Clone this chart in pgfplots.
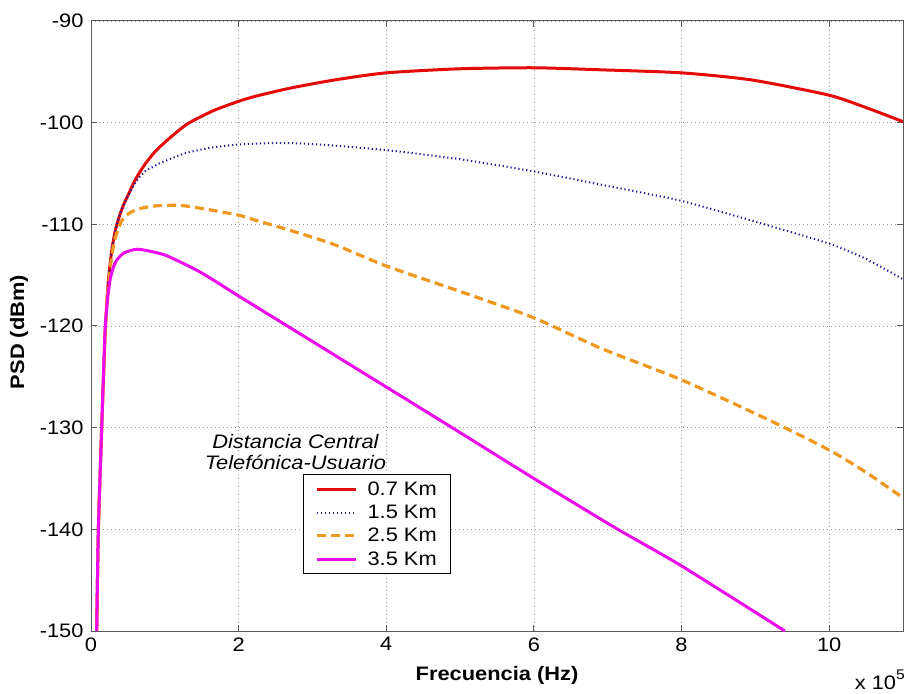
\documentclass[border=0pt]{standalone}
\usepackage{fontspec}
\setmainfont{Liberation Sans}[FakeStretch=1.12]
\usepackage{pgfplots}
\pgfplotsset{compat=1.18}
\definecolor{cRed}{RGB}{228,10,10}
\definecolor{cBlue}{RGB}{25,25,150}
\definecolor{cOrange}{RGB}{238,152,32}
\definecolor{cMag}{RGB}{238,10,238}
\definecolor{cFrame}{RGB}{90,90,90}
\begin{document}
\begin{tikzpicture}[x=1pt,y=1pt]
\useasboundingbox (0,0) rectangle (907,693);
\begin{axis}[
  at={(91pt,62pt)}, anchor=south west,
  scale only axis, width=812pt, height=610pt,
  xmin=0, xmax=11, ymin=-150, ymax=-90,
  xtick={0,2,4,6,8,10}, ytick={-150,-140,-130,-120,-110,-100,-90},
  grid=major,
  grid style={dash pattern=on 1pt off 3pt, gray!80, line width=0.8pt},
  axis line style={cFrame, line width=1pt},
  tick style={cFrame, line width=1pt},
  major tick length=6pt, tick align=inside,
  /pgf/number format/assume math mode=true,
  ticklabel style={font=\fontsize{19.5}{22}\selectfont},
  yticklabel style={xshift=-4pt},
  xticklabel style={yshift=-3pt},
  xlabel={Frecuencia (Hz)}, ylabel={PSD (dBm)},
  label style={font=\fontsize{19.5}{22}\selectfont\bfseries},
  xlabel style={at={(axis description cs:0.5,-0.0725)}, anchor=center},
  ylabel style={at={(axis description cs:-0.0885,0.49)}, anchor=center},
  legend cell align=left,
  legend style={at={(0.261,0.257)}, anchor=north west, draw=black, line width=0.8pt,
    fill=white, font=\fontsize{19.5}{22}\selectfont, inner xsep=12pt, inner ysep=5pt,
    row sep=4.3pt, column sep=8pt,
    nodes={inner sep=2pt},
    legend image code/.code={\draw[#1] (0pt,0pt) -- (39pt,0pt);}},
  every axis plot/.append style={smooth, tension=0.4},
]
\addplot[cRed, line width=3pt] coordinates {
(0.077,-150) (0.1,-140) (0.145,-130) (0.19,-121) (0.23,-116) (0.28,-112.6) (0.33,-110.6)
(0.38,-109.3) (0.44,-108.1) (0.51,-107.0) (0.58,-105.9) (0.65,-105.0) (0.73,-104.1)
(0.85,-103.0) (0.96,-102.2) (1.1,-101.3) (1.27,-100.3) (1.41,-99.7) (1.68,-98.75)
(2.0,-97.9) (2.23,-97.4) (2.7,-96.6) (3.3,-95.8) (4,-95.1) (5,-94.7) (6,-94.6) (6.9,-94.8)
(8,-95.1) (8.95,-95.8) (10,-97.3) (10.53,-98.6) (11,-99.9)};
\addlegendentry{0.7 Km}
\addplot[cBlue, line width=2pt, dash pattern=on 1.2pt off 2.8pt] coordinates {
(0.077,-150) (0.1,-140) (0.145,-130) (0.19,-121) (0.23,-116) (0.28,-112.6) (0.33,-110.6)
(0.38,-109.3) (0.44,-108.1) (0.51,-107.1) (0.6,-105.9) (0.73,-104.8) (0.85,-104.3)
(0.96,-103.9) (1.28,-103.0) (1.64,-102.45) (2.0,-102.15) (2.5,-102.0) (3.0,-102.1)
(4,-102.7) (5,-103.6) (6,-104.8) (6.91,-106.1) (8,-107.7) (9.17,-110.1) (10,-111.9)
(10.5,-113.4) (11,-115.4)};
\addlegendentry{1.5 Km}
\addplot[cOrange, line width=3.2pt, dash pattern=on 9pt off 5pt] coordinates {
(0.077,-150) (0.1,-140) (0.145,-130) (0.19,-121) (0.23,-116.5) (0.28,-113.2) (0.33,-111.3)
(0.42,-109.6) (0.52,-108.9) (0.64,-108.5) (0.8,-108.25) (0.96,-108.15) (1.23,-108.15)
(1.55,-108.5) (2.0,-109.1) (2.23,-109.6) (2.7,-110.6) (3.3,-112.0) (4,-114.1) (5,-116.6)
(6,-119.2) (6.91,-122.2) (8,-125.3) (9.17,-129.2) (10,-132.2) (10.5,-134.4) (11,-136.9)};
\addlegendentry{2.5 Km}
\addplot[cMag, line width=3pt] coordinates {
(0.077,-150) (0.1,-140) (0.145,-130) (0.19,-120.5) (0.23,-117) (0.26,-115.4) (0.3,-114.3)
(0.35,-113.5) (0.45,-112.8) (0.62,-112.45) (0.8,-112.65) (1.03,-113.1) (1.48,-114.7)
(2.0,-117.05) (2.66,-120.0) (4,-126.0) (4.87,-129.9) (6,-135.0) (7.09,-139.8) (8,-143.6)
(9.4,-150)};
\addlegendentry{3.5 Km}
\node[align=center, font=\fontsize{19.5}{21.6}\selectfont\itshape] at (axis cs:2.77,-132.4)
  {Distancia Central\\Telefónica-Usuario};
\end{axis}
\node[anchor=base east, font=\fontsize{19.5}{22}\selectfont, inner sep=0pt]
  at (905,3) {x 10\raisebox{10pt}{\fontsize{14}{15}\selectfont 5}};
\end{tikzpicture}
\end{document}
